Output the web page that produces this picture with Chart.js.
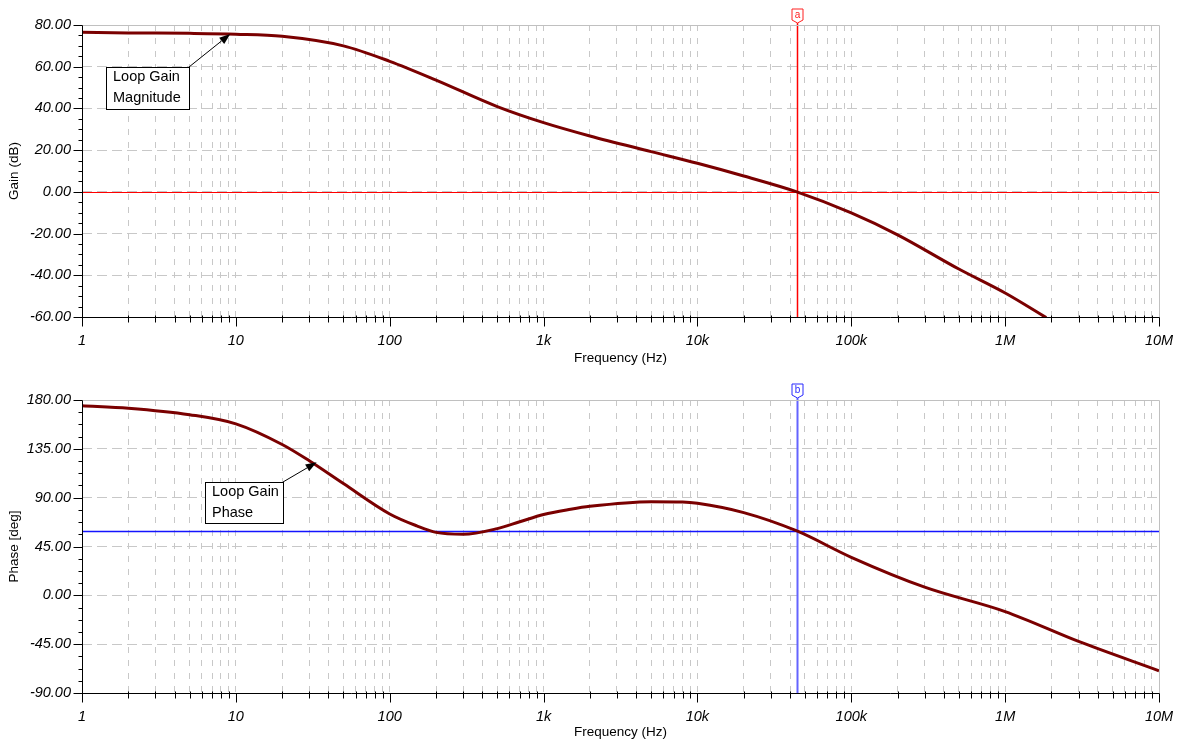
<!DOCTYPE html>
<html>
<head>
<meta charset="utf-8">
<script src="https://cdn.jsdelivr.net/npm/chart.js@4.4.1/dist/chart.umd.min.js"></script>
<style>
  body { margin: 0; background: #fff; }
  .plot { position: absolute; left: 0; width: 1181px; height: 370px; }
  #gain-box { top: 0; }
  #phase-box { top: 372px; }
</style>
</head>
<body>
<div class="plot" id="gain-box"><canvas id="gain-chart"></canvas></div>
<div class="plot" id="phase-box"><canvas id="phase-chart"></canvas></div>
<script>
// dados
const decadeLabels = ['1', '10', '100', '1k', '10k', '100k', '1M', '10M'];
const gainTickLabels = [-60, -40, -20, 0, 20, 40, 60, 80];
const phaseTickLabels = [-90, -45, 0, 45, 90, 135, 180];

const gainFreq = [1, 2, 5, 10, 20, 50, 100, 200, 500, 1e3, 2e3, 5e3, 1e4, 2e4, 4.43e4, 1e5, 2e5, 5e5, 1e6, 1.85e6];
const gainDb = [76.5, 76.2, 76.0, 75.6, 74.6, 70.0, 62.6, 53.6, 40.9, 33.2, 26.8, 19.3, 13.7, 7.6, 0, -10.1, -20.6, -37.0, -48.5, -60.3];

const phaseFreq = [1, 2, 5, 10, 20, 30, 50, 100, 150, 200, 300, 500, 700, 1e3, 1.5e3, 2e3, 5e3, 8e3, 1e4, 2e4, 4.43e4, 1e5, 3e5, 1e6, 3e6, 1e7];
const phaseDeg = [174.8, 172.5, 166.5, 158, 139, 124, 103, 75, 64, 58, 56.3, 61.5, 67.8, 74.5, 79.3, 82, 86.3, 86, 84.8, 76.2, 59.3, 35, 7.5, -15, -42.5, -69.5];

const cursorFreq = 4.43e4;
const cursorGain = 0;
const cursorPhase = 59.3;

const FONT = "'Liberation Sans', Arial, sans-serif";

function logTicks() {
  const out = [];
  for (let d = 0; d < decadeLabels.length; d++) {
    const base = Math.pow(10, d);
    out.push(base);
    if (d < decadeLabels.length - 1) {
      for (let m = 2; m <= 9; m++) out.push(m * base);
    }
  }
  return out;
}

function isDecade(v) {
  const l = Math.log10(v);
  return Math.abs(l - Math.round(l)) < 1e-9;
}

function line(ctx, x1, y1, x2, y2) {
  ctx.beginPath();
  ctx.moveTo(x1, y1);
  ctx.lineTo(x2, y2);
  ctx.stroke();
}

const bodePlugin = {
  id: 'bode',
  beforeDatasetsDraw(chart) {
    const o = chart.options.plugins.bode;
    const { ctx, chartArea: a, scales: { x, y } } = chart;
    const cx = Math.round(x.getPixelForValue(o.cursorX)) + 0.5;
    const cy = Math.round(y.getPixelForValue(o.cursorY)) + 0.5;
    ctx.save();
    ctx.setLineDash([]);
    ctx.lineWidth = o.hWidth;
    ctx.strokeStyle = o.lineColor;
    line(ctx, a.left, cy, a.right, cy);
    ctx.lineWidth = o.vWidth;
    ctx.strokeStyle = o.vertColor;
    line(ctx, cx, a.top - 2, cx, a.bottom);
    ctx.restore();
  },
  afterDraw(chart) {
    const o = chart.options.plugins.bode;
    const { ctx, chartArea: a, scales: { x, y } } = chart;
    const L = Math.round(a.left) + 0.5, R = Math.round(a.right) + 0.5;
    const T = Math.round(a.top) + 0.5, B = Math.round(a.bottom) + 0.5;
    ctx.save();
    ctx.setLineDash([]);

    // moldura
    ctx.lineWidth = 1;
    ctx.strokeStyle = '#c0c0c0';
    line(ctx, L, T, R, T);
    line(ctx, R, T, R, B);
    ctx.strokeStyle = '#000';
    line(ctx, L, T, L, B + 1);
    line(ctx, L, B, R, B);

    // marcas dos eixos
    x.ticks.forEach(t => {
      const px = Math.round(x.getPixelForValue(t.value)) + 0.5;
      if (isDecade(t.value)) line(ctx, px, B, px, B + 9);
      else line(ctx, px, B - 2, px, B + 5);
    });
    y.ticks.forEach(t => {
      const py = Math.round(y.getPixelForValue(t.value)) + 0.5;
      if (o.yLabels.includes(t.value)) line(ctx, L - 9, py, L, py);
      else line(ctx, L - 4, py, L, py);
    });

    // bandeira do cursor
    const cx = Math.round(x.getPixelForValue(o.cursorX)) + 0.5;
    const fy = a.top - 16;
    ctx.beginPath();
    ctx.moveTo(cx - 5.5, fy);
    ctx.lineTo(cx + 5.5, fy);
    ctx.lineTo(cx + 5.5, fy + 11);
    ctx.lineTo(cx, fy + 14);
    ctx.lineTo(cx - 5.5, fy + 11);
    ctx.closePath();
    ctx.fillStyle = '#fff';
    ctx.fill();
    ctx.strokeStyle = o.flagColor;
    ctx.stroke();
    ctx.fillStyle = o.flagColor;
    ctx.font = '10px ' + FONT;
    ctx.textAlign = 'center';
    ctx.textBaseline = 'middle';
    ctx.fillText(o.flag, cx, fy + 6.5);

    // anotação
    const n = o.note;
    const tx = x.getPixelForValue(n.tipX);
    const ty = y.getPixelForValue(n.tipY);
    ctx.fillStyle = '#fff';
    ctx.fillRect(n.box[0], n.box[1], n.box[2], n.box[3]);
    ctx.strokeStyle = '#000';
    ctx.lineWidth = 1;
    ctx.strokeRect(n.box[0] + 0.5, n.box[1] + 0.5, n.box[2], n.box[3]);
    ctx.fillStyle = '#000';
    ctx.font = '14.5px ' + FONT;
    ctx.textAlign = 'left';
    ctx.textBaseline = 'middle';
    n.lines.forEach((s, i) => ctx.fillText(s, n.box[0] + 7, n.box[1] + 10 + i * 21));
    const sx = n.box[0] + n.box[2], sy = n.box[1];
    const ang = Math.atan2(ty - sy, tx - sx);
    const hl = 11, hw = 4;
    const bx = tx - hl * Math.cos(ang), by = ty - hl * Math.sin(ang);
    line(ctx, sx, sy, bx, by);
    ctx.beginPath();
    ctx.moveTo(tx, ty);
    ctx.lineTo(bx + hw * Math.sin(ang), by - hw * Math.cos(ang));
    ctx.lineTo(bx - hw * Math.sin(ang), by + hw * Math.cos(ang));
    ctx.closePath();
    ctx.fill();

    ctx.restore();
  }
};

function makeChart(id, cfg) {
  const ctx = document.getElementById(id).getContext('2d');
  return new Chart(ctx, {
    type: 'line',
    data: {
      datasets: [{
        data: cfg.freq.map((f, i) => ({ x: f, y: cfg.values[i] })),
        borderColor: '#7a0000',
        borderWidth: 3,
        pointRadius: 0,
        cubicInterpolationMode: 'monotone',
        fill: false
      }]
    },
    options: {
      responsive: true,
      maintainAspectRatio: false,
      animation: false,
      events: [],
      layout: { padding: { top: cfg.padTop, right: 22, left: 0, bottom: 0 } },
      plugins: {
        legend: { display: false },
        tooltip: { enabled: false },
        bode: cfg.bode
      },
      scales: {
        x: {
          type: 'logarithmic',
          min: 1,
          max: 1e7,
          afterBuildTicks: s => { s.ticks = logTicks().map(v => ({ value: v })); },
          afterFit: s => {
            s.height = cfg.xHeight;
            s.paddingLeft = 0;
            s.paddingRight = 0;
          },
          grid: {
            color: c => (c.tick && (c.tick.value === 1 || c.tick.value === 1e7)) ? 'rgba(0,0,0,0)' : '#c8c8c8',
            drawTicks: false
          },
          border: { display: false, dash: [6, 7] },
          ticks: {
            autoSkip: false,
            maxRotation: 0,
            padding: 15,
            color: '#000',
            font: { family: FONT, size: 14.5, style: 'italic' },
            callback: v => isDecade(v) ? decadeLabels[Math.round(Math.log10(v))] : ''
          },
          title: {
            display: true,
            text: 'Frequency (Hz)',
            color: '#000',
            font: { family: FONT, size: 13.5 },
            padding: { top: 0, bottom: cfg.titlePad }
          }
        },
        y: {
          min: cfg.yMin,
          max: cfg.yMax,
          afterFit: s => { s.width = 82; },
          grid: {
            color: c => (c.tick && cfg.yLabels.includes(c.tick.value) && c.tick.value !== cfg.yMax) ? '#c8c8c8' : 'rgba(0,0,0,0)',
            drawTicks: false
          },
          border: { display: false, dash: [10, 5] },
          ticks: {
            stepSize: cfg.yStep,
            autoSkip: false,
            padding: 11,
            color: '#000',
            font: { family: FONT, size: 14.5, style: 'italic' },
            callback: v => cfg.yLabels.includes(v) ? v.toFixed(2) : ''
          },
          title: {
            display: true,
            text: cfg.yTitle,
            color: '#000',
            font: { family: FONT, size: 13.5 },
            padding: { top: 6, bottom: 0 }
          }
        }
      }
    },
    plugins: [bodePlugin]
  });
}

makeChart('gain-chart', {
  freq: gainFreq,
  values: gainDb,
  yMin: -60, yMax: 80, yStep: 5,
  yLabels: gainTickLabels,
  yTitle: 'Gain (dB)',
  padTop: 25, xHeight: 53, titlePad: 4,
  bode: {
    cursorX: cursorFreq, cursorY: cursorGain,
    lineColor: 'rgb(255,0,0)', hWidth: 1,
    vertColor: 'rgb(255,0,0)', vWidth: 1.5,
    flag: 'a', flagColor: 'rgb(255,32,32)',
    yLabels: gainTickLabels,
    note: { lines: ['Loop Gain', 'Magnitude'], box: [106, 67, 83, 42], tipX: 9.2, tipY: 75.7 }
  }
});

makeChart('phase-chart', {
  freq: phaseFreq,
  values: phaseDeg,
  yMin: -90, yMax: 180, yStep: 11.25,
  yLabels: phaseTickLabels,
  yTitle: 'Phase [deg]',
  padTop: 28, xHeight: 49, titlePad: 2,
  bode: {
    cursorX: cursorFreq, cursorY: cursorPhase,
    lineColor: 'rgb(20,20,255)', hWidth: 1.5,
    vertColor: 'rgb(100,100,255)', vWidth: 2,
    flag: 'b', flagColor: 'rgb(40,40,255)',
    yLabels: phaseTickLabels,
    note: { lines: ['Loop Gain', 'Phase'], box: [205, 110, 78, 41], tipX: 33.5, tipY: 122.6 }
  }
});
</script>
</body>
</html>
